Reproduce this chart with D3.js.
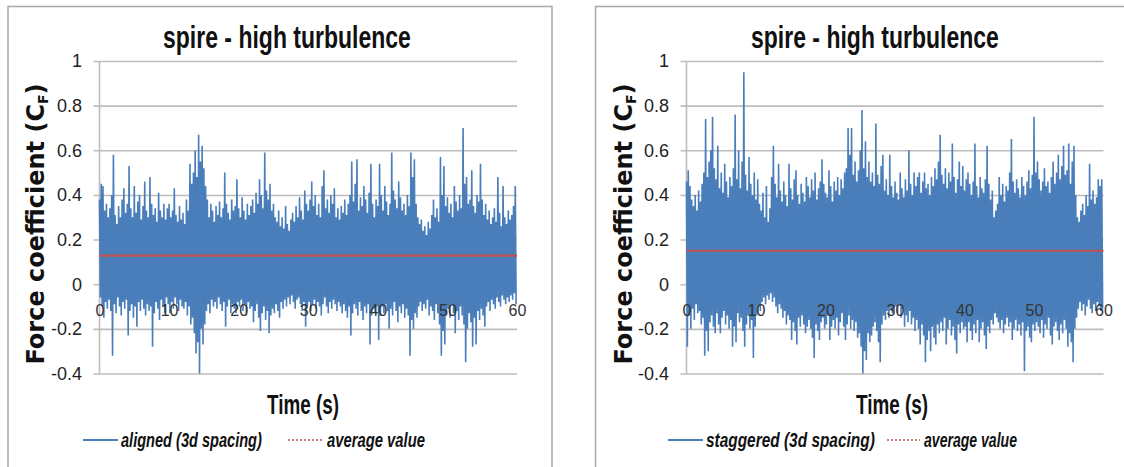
<!DOCTYPE html>
<html>
<head>
<meta charset="utf-8">
<script src="https://cdn.jsdelivr.net/npm/d3@7/dist/d3.min.js"></script>
<style>
  html, body { margin: 0; padding: 0; background: #fff; }
  svg { display: block; }
</style>
</head>
<body>
<svg id="chart" width="1124" height="467"></svg>
<script>
// Force coefficient time histories, spire-generated high turbulence.
// Each record is stored as its alternating local maxima / minima,
// one maximum and one minimum every 0.25 s (minimum sits half a step later).
const sampleStep = 0.25;
const timeTicks = [0, 10, 20, 30, 40, 50, 60];
const cfTicks = [-0.4, -0.2, 0, 0.2, 0.4, 0.6, 0.8, 1];
const cfTickLabels = ["-0.4", "-0.2", "0", "0.2", "0.4", "0.6", "0.8", "1"];
const chartTitle = "spire - high turbulence";
const seriesNames = ["aligned (3d spacing)", "staggered (3d spacing)"];
const averageName = "average value";

const alignedPeaks = [
  0.38,0.45,0.44,0.33,0.36,0.30,0.34,0.40,0.58,0.31,0.27,0.35,0.30,0.38,0.43,0.32,0.36,0.53,0.34,0.30,
  0.44,0.32,0.37,0.40,0.29,0.35,0.46,0.33,0.30,0.48,0.36,0.31,0.34,0.28,0.41,0.33,0.30,0.36,0.29,0.34,
  0.36,0.30,0.33,0.43,0.31,0.28,0.35,0.29,0.32,0.27,0.38,0.33,0.54,0.45,0.50,0.60,0.48,0.67,0.55,0.62,
  0.52,0.44,0.38,0.30,0.36,0.33,0.28,0.35,0.31,0.37,0.30,0.34,0.50,0.36,0.32,0.29,0.38,0.33,0.35,0.47,
  0.34,0.30,0.39,0.33,0.29,0.36,0.31,0.35,0.38,0.32,0.41,0.36,0.47,0.40,0.34,0.59,0.42,0.38,0.45,0.33,
  0.36,0.30,0.28,0.33,0.26,0.30,0.25,0.35,0.27,0.24,0.29,0.32,0.28,0.35,0.30,0.39,0.33,0.29,0.42,0.36,
  0.33,0.38,0.46,0.35,0.40,0.31,0.36,0.30,0.44,0.51,0.34,0.38,0.32,0.40,0.36,0.43,0.30,0.34,0.29,0.35,
  0.32,0.38,0.31,0.36,0.40,0.55,0.37,0.45,0.56,0.33,0.39,0.35,0.44,0.38,0.32,0.41,0.54,0.36,0.30,0.38,
  0.35,0.54,0.40,0.33,0.44,0.37,0.31,0.36,0.59,0.42,0.38,0.34,0.46,0.39,0.33,0.36,0.31,0.40,0.35,0.59,
  0.48,0.56,0.36,0.30,0.27,0.29,0.24,0.26,0.22,0.28,0.25,0.31,0.38,0.30,0.34,0.28,0.57,0.40,0.53,0.35,
  0.39,0.32,0.36,0.30,0.44,0.37,0.33,0.40,0.34,0.70,0.45,0.48,0.36,0.38,0.51,0.35,0.32,0.40,0.37,0.54,
  0.38,0.31,0.36,0.29,0.33,0.27,0.30,0.34,0.28,0.48,0.32,0.26,0.44,0.30,0.27,0.33,0.29,0.31,0.35,0.44
];
const alignedTroughs = [
  -0.06,-0.10,-0.15,-0.08,-0.11,-0.07,-0.12,-0.32,-0.09,-0.13,-0.06,-0.10,-0.14,-0.08,-0.11,-0.07,-0.23,-0.12,-0.09,-0.15,
  -0.10,-0.19,-0.08,-0.12,-0.07,-0.11,-0.14,-0.09,-0.12,-0.10,-0.28,-0.13,-0.08,-0.11,-0.16,-0.07,-0.10,-0.13,-0.06,-0.09,
  -0.13,-0.08,-0.11,-0.06,-0.09,-0.12,-0.07,-0.10,-0.11,-0.08,-0.14,-0.10,-0.18,-0.15,-0.22,-0.31,-0.26,-0.40,-0.20,-0.27,
  -0.18,-0.12,-0.09,-0.13,-0.07,-0.10,-0.08,-0.11,-0.06,-0.09,-0.12,-0.08,-0.19,-0.10,-0.07,-0.13,-0.09,-0.11,-0.13,-0.08,
  -0.10,-0.07,-0.12,-0.09,-0.14,-0.08,-0.11,-0.10,-0.17,-0.12,-0.09,-0.15,-0.21,-0.13,-0.10,-0.16,-0.12,-0.22,-0.14,-0.11,
  -0.13,-0.09,-0.12,-0.15,-0.08,-0.11,-0.07,-0.10,-0.06,-0.09,-0.05,-0.08,-0.11,-0.07,-0.06,-0.09,-0.12,-0.08,-0.19,-0.10,
  -0.08,-0.12,-0.09,-0.07,-0.11,-0.08,-0.10,-0.14,-0.09,-0.06,-0.10,-0.13,-0.08,-0.11,-0.07,-0.09,-0.12,-0.08,-0.10,-0.13,
  -0.09,-0.12,-0.15,-0.10,-0.23,-0.13,-0.09,-0.11,-0.14,-0.08,-0.12,-0.16,-0.10,-0.13,-0.09,-0.27,-0.14,-0.11,-0.13,-0.10,
  -0.25,-0.14,-0.10,-0.13,-0.09,-0.12,-0.20,-0.11,-0.14,-0.08,-0.12,-0.17,-0.10,-0.13,-0.09,-0.15,-0.11,-0.14,-0.32,-0.16,
  -0.20,-0.13,-0.15,-0.10,-0.08,-0.12,-0.09,-0.11,-0.07,-0.14,-0.10,-0.12,-0.16,-0.09,-0.13,-0.18,-0.32,-0.21,-0.27,-0.14,
  -0.11,-0.15,-0.09,-0.13,-0.22,-0.12,-0.16,-0.10,-0.14,-0.18,-0.35,-0.20,-0.13,-0.17,-0.28,-0.15,-0.27,-0.12,-0.16,-0.11,
  -0.14,-0.19,-0.10,-0.08,-0.12,-0.07,-0.09,-0.11,-0.06,-0.08,-0.10,-0.05,-0.07,-0.09,-0.06,-0.08,-0.05,-0.07,-0.04,-0.09
];
const alignedAverage = 0.128;

const staggeredPeaks = [
  0.46,0.51,0.44,0.38,0.35,0.40,0.33,0.42,0.37,0.45,0.50,0.74,0.48,0.55,0.60,0.75,0.52,0.47,0.62,0.43,
  0.50,0.41,0.54,0.46,0.39,0.48,0.44,0.52,0.76,0.47,0.60,0.43,0.55,0.95,0.49,0.42,0.57,0.45,0.40,0.50,
  0.38,0.47,0.36,0.33,0.41,0.30,0.44,0.28,0.34,0.48,0.62,0.45,0.39,0.54,0.42,0.37,0.46,0.40,0.35,0.54,
  0.43,0.38,0.47,0.51,0.40,0.36,0.45,0.41,0.37,0.48,0.44,0.39,0.47,0.42,0.50,0.38,0.43,0.46,0.56,0.45,
  0.41,0.39,0.51,0.44,0.37,0.46,0.42,0.48,0.40,0.47,0.43,0.50,0.52,0.70,0.58,0.70,0.49,0.55,0.46,0.51,
  0.60,0.78,0.52,0.64,0.48,0.55,0.46,0.50,0.44,0.72,0.49,0.45,0.53,0.58,0.42,0.47,0.40,0.58,0.44,0.39,
  0.46,0.41,0.38,0.50,0.43,0.39,0.47,0.42,0.60,0.45,0.40,0.50,0.44,0.48,0.50,0.41,0.46,0.50,0.43,0.45,
  0.40,0.48,0.44,0.52,0.47,0.55,0.67,0.49,0.45,0.52,0.43,0.50,0.46,0.63,0.48,0.41,0.47,0.55,0.44,0.53,
  0.42,0.47,0.50,0.45,0.40,0.46,0.63,0.44,0.39,0.48,0.43,0.41,0.47,0.62,0.45,0.38,0.42,0.30,0.33,0.36,
  0.48,0.40,0.45,0.37,0.44,0.42,0.50,0.65,0.46,0.41,0.47,0.43,0.39,0.48,0.44,0.40,0.46,0.51,0.43,0.49,
  0.75,0.50,0.55,0.47,0.42,0.46,0.52,0.44,0.46,0.41,0.48,0.55,0.45,0.50,0.58,0.47,0.53,0.62,0.49,0.51,
  0.63,0.45,0.55,0.62,0.40,0.30,0.28,0.33,0.36,0.31,0.40,0.35,0.54,0.38,0.42,0.36,0.39,0.47,0.44,0.47
];
const staggeredTroughs = [
  -0.28,-0.14,-0.20,-0.11,-0.16,-0.09,-0.13,-0.12,-0.18,-0.15,-0.32,-0.21,-0.30,-0.17,-0.14,-0.19,-0.22,-0.13,-0.18,-0.22,
  -0.15,-0.12,-0.18,-0.14,-0.20,-0.16,-0.28,-0.19,-0.26,-0.13,-0.17,-0.15,-0.21,-0.28,-0.18,-0.14,-0.20,-0.16,-0.33,-0.19,
  -0.14,-0.10,-0.12,-0.08,-0.06,-0.09,-0.05,-0.07,-0.04,-0.08,-0.06,-0.10,-0.13,-0.09,-0.11,-0.15,-0.12,-0.18,-0.14,-0.16,
  -0.25,-0.17,-0.21,-0.27,-0.15,-0.19,-0.14,-0.18,-0.22,-0.19,-0.16,-0.20,-0.24,-0.33,-0.18,-0.21,-0.25,-0.17,-0.15,-0.20,
  -0.18,-0.14,-0.25,-0.19,-0.16,-0.20,-0.15,-0.23,-0.17,-0.13,-0.19,-0.25,-0.18,-0.14,-0.20,-0.16,-0.21,-0.17,-0.24,-0.22,
  -0.28,-0.40,-0.30,-0.34,-0.22,-0.26,-0.23,-0.19,-0.17,-0.21,-0.26,-0.35,-0.18,-0.14,-0.16,-0.12,-0.15,-0.11,-0.13,-0.12,
  -0.10,-0.13,-0.09,-0.15,-0.11,-0.19,-0.14,-0.17,-0.12,-0.18,-0.15,-0.21,-0.16,-0.20,-0.27,-0.18,-0.23,-0.35,-0.25,-0.21,
  -0.30,-0.19,-0.24,-0.27,-0.18,-0.22,-0.17,-0.21,-0.15,-0.27,-0.20,-0.16,-0.23,-0.19,-0.25,-0.31,-0.18,-0.22,-0.17,-0.20,
  -0.19,-0.26,-0.17,-0.21,-0.25,-0.18,-0.22,-0.16,-0.26,-0.20,-0.17,-0.23,-0.29,-0.19,-0.22,-0.16,-0.18,-0.13,-0.15,-0.17,
  -0.20,-0.16,-0.22,-0.18,-0.15,-0.19,-0.17,-0.25,-0.20,-0.16,-0.21,-0.18,-0.23,-0.17,-0.39,-0.21,-0.19,-0.24,-0.26,-0.18,
  -0.21,-0.17,-0.19,-0.22,-0.16,-0.24,-0.18,-0.20,-0.15,-0.23,-0.27,-0.19,-0.17,-0.21,-0.25,-0.18,-0.22,-0.16,-0.20,-0.28,
  -0.22,-0.26,-0.35,-0.20,-0.15,-0.11,-0.08,-0.12,-0.09,-0.14,-0.10,-0.07,-0.11,-0.13,-0.09,-0.12,-0.08,-0.10,-0.12,-0.11
];
const staggeredAverage = 0.15;

// ---- styling ----
const BLUE = "#4a7ebb";
const RED = "#c0504d";
const GRID = "#bdbdbd";
const FRAME = "#a8a8a8";
const NARROW = "'Liberation Sans Narrow', 'Liberation Sans', Arial, sans-serif";
const WIDE_BOLD = "'DejaVu Sans', Verdana, sans-serif";

const svg = d3.select("#chart");

// Interleave maxima and minima into one time-ordered record.
function buildRecord(peaks, troughs) {
  const pts = [];
  peaks.forEach((p, i) => {
    pts.push({ t: i * sampleStep, v: p });
    pts.push({ t: i * sampleStep + sampleStep / 2, v: troughs[i] });
  });
  return pts;
}

// Condensed text: the glyphs are squeezed horizontally to a given width.
// anchor: "start" or "middle" relative to x.
function condensedText(parent, str, x, y, width, anchor, style) {
  const holder = parent.append("g");
  const t = holder.append("text").attr("x", 0).attr("y", 0).text(str);
  Object.entries(style).forEach(([k, v]) => t.attr(k, v));
  const natural = t.node().getComputedTextLength();
  const sx = Math.min(1, width / natural);
  const left = anchor === "middle" ? x - width / 2 : x;
  holder.attr("transform", `translate(${left},${y}) scale(${sx},1)`);
  return holder;
}

const panels = [
  {
    name: seriesNames[0], peaks: alignedPeaks, troughs: alignedTroughs, avg: alignedAverage,
    frame: { x: 8, y: 6.5, w: 544 },
    plotX: [99.5, 517], tickRight: 82, yTitleX: 36, titleX: 287, timeX: 303,
    legend: { line: [83, 118], text: 121, textLen: 141, dots: [288, 322], avgText: 327, avgLen: 98 }
  },
  {
    name: seriesNames[1], peaks: staggeredPeaks, troughs: staggeredTroughs, avg: staggeredAverage,
    frame: { x: 595.5, y: 6.5, w: 540 },
    plotX: [686.5, 1103.5], tickRight: 669, yTitleX: 624, titleX: 875, timeX: 892,
    legend: { line: [668, 703], text: 706, textLen: 169, dots: [887, 920], avgText: 924, avgLen: 93 }
  }
];

const plotY = [373.5, 61];

panels.forEach(p => {
  const g = svg.append("g");
  const x = d3.scaleLinear().domain([0, 60]).range(p.plotX);
  const y = d3.scaleLinear().domain([-0.4, 1]).range(plotY);

  // chart frame
  g.append("rect")
    .attr("x", p.frame.x).attr("y", p.frame.y)
    .attr("width", p.frame.w).attr("height", 480)
    .attr("fill", "#fff").attr("stroke", FRAME).attr("stroke-width", 1.5);

  // horizontal gridlines, reaching a little past the vertical axis
  const ga = g.append("g").attr("transform", `translate(${p.plotX[1]},0)`)
    .call(d3.axisLeft(y).tickValues(cfTicks).tickSize(p.plotX[1] - p.plotX[0] + 6).tickFormat(""));
  ga.select(".domain").remove();
  ga.selectAll(".tick line").attr("stroke", GRID).attr("stroke-width", 1.6);

  // vertical axis line
  g.append("line")
    .attr("x1", x(0)).attr("x2", x(0)).attr("y1", y(1)).attr("y2", y(-0.4))
    .attr("stroke", GRID).attr("stroke-width", 1.6);

  // y tick labels
  g.selectAll(".ylab").data(cfTicks).enter().append("text")
    .attr("x", p.tickRight).attr("y", d => y(d))
    .attr("dy", "0.35em").attr("text-anchor", "end")
    .attr("font-family", NARROW).attr("font-size", 18).attr("fill", "#222")
    .text((d, i) => cfTickLabels[i]);

  // signal
  const record = buildRecord(p.peaks, p.troughs);
  g.append("path").datum(record)
    .attr("fill", "none").attr("stroke", BLUE).attr("stroke-width", 1.6)
    .attr("stroke-linejoin", "miter").attr("stroke-miterlimit", 2)
    .attr("d", d3.line().x(d => x(d.t)).y(d => y(d.v)));

  // average value
  g.append("line")
    .attr("x1", x(0)).attr("x2", x(60)).attr("y1", y(p.avg)).attr("y2", y(p.avg))
    .attr("stroke", RED).attr("stroke-width", 2.2);

  // time tick labels, sitting under the zero line
  const xa = g.append("g").attr("transform", `translate(0,${y(0) + 20})`)
    .call(d3.axisBottom(x).tickValues(timeTicks).tickSize(0).tickPadding(0));
  xa.select(".domain").remove();
  xa.selectAll("text")
    .attr("font-family", NARROW).attr("font-size", 16).attr("fill", "#333")
    .attr("dy", "0.71em");

  // chart title
  condensedText(g, chartTitle, p.titleX, 48, 248, "middle", {
    "font-family": NARROW, "font-weight": "bold", "font-size": 32, fill: "#111"
  });

  // axis titles
  const yt = g.append("text")
    .attr("transform", `translate(${p.yTitleX},224) rotate(-90)`)
    .attr("text-anchor", "middle").attr("dy", "0.35em")
    .attr("font-family", WIDE_BOLD).attr("font-weight", "bold").attr("font-size", 24)
    .attr("fill", "#111");
  yt.append("tspan").text("Force coefficient (C");
  yt.append("tspan").attr("font-size", 14).attr("dy", 4).text("F");
  yt.append("tspan").attr("dy", -4).text(")");

  condensedText(g, "Time (s)", p.timeX, 414, 72, "middle", {
    "font-family": NARROW, "font-weight": "bold", "font-size": 27, fill: "#111"
  });

  // legend
  const L = p.legend;
  const legendStyle = {
    "font-family": NARROW, "font-weight": "bold", "font-style": "italic",
    "font-size": 21, fill: "#111"
  };
  g.append("line").attr("x1", L.line[0]).attr("x2", L.line[1]).attr("y1", 440).attr("y2", 440)
    .attr("stroke", BLUE).attr("stroke-width", 2);
  condensedText(g, p.name, L.text, 447, L.textLen, "start", legendStyle);
  g.append("line").attr("x1", L.dots[0]).attr("x2", L.dots[1]).attr("y1", 440).attr("y2", 440)
    .attr("stroke", RED).attr("stroke-width", 1.6).attr("stroke-dasharray", "2,2");
  condensedText(g, averageName, L.avgText, 447, L.avgLen, "start", legendStyle);
});
</script>
</body>
</html>
